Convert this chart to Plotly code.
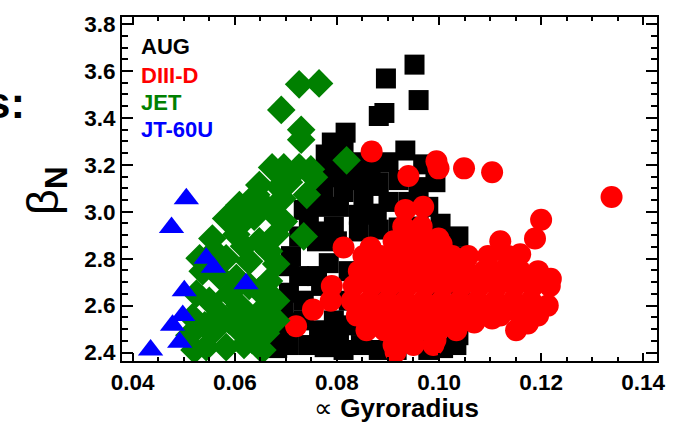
import plotly.graph_objects as go

# ---- data: proportional gyroradius vs normalised beta, per device ----
aug_x = [0.0952, 0.0896, 0.0960, 0.0882, 0.0893, 0.0817, 0.0934, 0.0790, 0.0778, 0.0813,
         0.0798, 0.0833, 0.0769, 0.0804, 0.0774, 0.0813, 0.0765, 0.0866, 0.0901, 0.0969,
         0.0882, 0.0921, 0.0960, 0.0993, 0.0901, 0.0979, 0.0852, 0.0745, 0.0726, 0.0761,
         0.0710, 0.0726, 0.0706, 0.0696, 0.0716, 0.0687, 0.0706, 0.0683, 0.0735, 0.0769,
         0.0784, 0.0800, 0.0745, 0.0776, 0.0813, 0.0847, 0.1038, 0.1038, 0.1042, 0.1042,
         0.1042, 0.1038, 0.1034, 0.1008, 0.0979, 0.0882, 0.0917, 0.1003, 0.1018, 0.0843,
         0.0882, 0.0921, 0.0960, 0.0823, 0.0862, 0.0911, 0.0960, 0.0999, 0.0823, 0.0872,
         0.0921, 0.0979, 0.1014, 0.0823, 0.0882, 0.0940, 0.0999, 0.0735, 0.0706,
         0.0804, 0.0839, 0.0843, 0.0878, 0.0940, 0.0765, 0.0794, 0.0761, 0.0735, 0.0765,
         0.0794, 0.0804, 0.0850, 0.0870]
aug_y = [3.627, 3.568, 3.476, 3.408, 3.421, 3.337, 3.261, 3.295, 3.244, 3.274,
         3.211, 3.211, 3.168, 3.147, 3.093, 3.084, 3.021, 3.189, 3.211, 3.202,
         3.126, 3.135, 3.105, 3.126, 3.042, 3.021, 3.051, 2.958, 2.895, 2.874,
         2.811, 2.726, 2.655, 2.579, 2.528, 2.486, 2.432, 2.419, 2.621, 2.684,
         2.781, 2.874, 2.432, 2.423, 2.411, 2.432, 2.895, 2.811, 2.726, 2.642,
         2.558, 2.474, 2.432, 2.419, 2.411, 2.411, 2.411, 2.949, 2.874, 2.916,
         2.924, 2.933, 2.937, 2.747, 2.798, 2.811, 2.798, 2.781, 2.621, 2.621,
         2.621, 2.621, 2.705, 2.516, 2.516, 2.516, 2.516, 3.008, 2.768,
         3.021, 3.135, 2.987, 2.992, 3.042, 2.916, 2.937, 2.726, 2.537, 2.495,
         2.537, 2.474, 3.170, 3.110]

diiid_x = [0.0868, 0.0940, 0.0995, 0.0999, 0.1049, 0.1104, 0.1338, 0.1200, 0.1188, 0.1120,
           0.1159, 0.1219, 0.1213, 0.1174, 0.1151, 0.0813, 0.0866, 0.0720, 0.0753, 0.0788,
           0.0790, 0.0934, 0.0969, 0.0915, 0.0993,
           0.0930, 0.0966, 0.0999,
           0.0911, 0.0944, 0.0975, 0.1005,
           0.0852, 0.0886, 0.0921, 0.0956, 0.0991, 0.1026, 0.1057, 0.1096, 0.1135,
           0.0843, 0.0878, 0.0913, 0.0948, 0.0983, 0.1018, 0.1053, 0.1088, 0.1123, 0.1159, 0.1194,
           0.0833, 0.0868, 0.0903, 0.0938, 0.0973, 0.1008, 0.1044, 0.1079, 0.1114, 0.1149, 0.1184, 0.1217,
           0.0829, 0.0864, 0.0899, 0.0934, 0.0969, 0.1005, 0.1040, 0.1075, 0.1110, 0.1145, 0.1180,
           0.0839, 0.0874, 0.0909, 0.0944, 0.0979, 0.1014, 0.1049, 0.1084, 0.1120, 0.1159, 0.1194,
           0.0858, 0.0893, 0.0928, 0.0964, 0.0999, 0.1034, 0.1069, 0.1104,
           0.0911, 0.0950, 0.0989]
diiid_y = [3.257, 3.152, 3.215, 3.185, 3.185, 3.168, 3.063, 2.966, 2.886, 2.874,
           2.819, 2.714, 2.600, 2.524, 2.495, 2.848, 2.848, 2.512, 2.583, 2.621,
           2.684, 3.008, 3.021, 2.402, 2.453,
           2.937, 2.937, 2.886,
           2.874, 2.874, 2.874, 2.862,
           2.811, 2.811, 2.811, 2.811, 2.811, 2.811, 2.811, 2.811, 2.811,
           2.747, 2.747, 2.747, 2.747, 2.747, 2.747, 2.747, 2.747, 2.747, 2.747, 2.747,
           2.684, 2.684, 2.684, 2.684, 2.684, 2.684, 2.684, 2.684, 2.684, 2.684, 2.684, 2.684,
           2.621, 2.621, 2.621, 2.621, 2.621, 2.621, 2.621, 2.621, 2.621, 2.621, 2.621,
           2.558, 2.558, 2.558, 2.558, 2.558, 2.558, 2.558, 2.558, 2.558, 2.558, 2.558,
           2.495, 2.495, 2.495, 2.495, 2.495, 2.495, 2.528, 2.545,
           2.432, 2.432, 2.432]

jet_x = [0.0726, 0.0765, 0.0691, 0.0730, 0.0730, 0.0819, 0.0673, 0.0726, 0.0749, 0.0755,
         0.0706, 0.0693, 0.0741, 0.0648, 0.0735, 0.0642, 0.0609, 0.0583, 0.0622, 0.0673,
         0.0556, 0.0603, 0.0648, 0.0681, 0.0667, 0.0531, 0.0583, 0.0628, 0.0681, 0.0537,
         0.0603, 0.0667, 0.0525, 0.0589, 0.0648, 0.0681, 0.0517, 0.0570, 0.0622, 0.0681,
         0.0661, 0.0511, 0.0544, 0.0583, 0.0634, 0.0654, 0.0560, 0.0609, 0.0687, 0.0657,
         0.0696,
         0.0560, 0.0618, 0.0570, 0.0628, 0.0550, 0.0609, 0.0652, 0.0541, 0.0589, 0.0638,
         0.0618, 0.0521, 0.0638, 0.0696]
jet_y = [3.543, 3.547, 3.434, 3.349, 3.307, 3.219, 3.189, 3.189, 3.181, 3.147,
         3.126, 3.055, 3.072, 3.114, 2.895, 3.072, 3.029, 2.971, 2.971, 3.000,
         2.886, 2.903, 2.874, 2.903, 2.832, 2.802, 2.802, 2.789, 2.777, 2.747,
         2.718, 2.705, 2.651, 2.651, 2.663, 2.621, 2.550, 2.566, 2.550, 2.537,
         2.482, 2.474, 2.423, 2.423, 2.453, 2.411, 2.495, 2.495, 3.105, 3.029,
         2.958,
         2.832, 2.853, 2.726, 2.684, 2.621, 2.600, 2.579, 2.516, 2.537, 2.516,
         2.432, 2.411, 2.979, 3.189]

jt60u_x = [0.0505, 0.0476, 0.0544, 0.0558, 0.0622, 0.0501, 0.0498, 0.0478, 0.0492, 0.0435]
jt60u_y = [3.055, 2.933, 2.802, 2.764, 2.693, 2.663, 2.558, 2.516, 2.444, 2.411]

device_names = ["AUG", "DIII-D", "JET", "JT-60U"]
device_colors = ["#000000", "#ff0000", "#008000", "#0000ff"]

x_ticks = [0.04, 0.06, 0.08, 0.10, 0.12, 0.14]
y_ticks = [2.4, 2.6, 2.8, 3.0, 3.2, 3.4, 3.6, 3.8]

FONT = "Liberation Sans, Arial, Helvetica, sans-serif"

series = [
    (aug_x, aug_y, "square", 20),
    (diiid_x, diiid_y, "circle", 22),
    (jet_x, jet_y, "diamond", 22),
    (jt60u_x, jt60u_y, "triangle-up", 22),
]

fig = go.Figure()
for (xs, ys, sym, sz), name, col in zip(series, device_names, device_colors):
    fig.add_trace(go.Scatter(
        x=xs, y=ys, mode="markers", name=name,
        marker=dict(symbol=sym, size=sz, color=col, line=dict(width=0)),
        showlegend=False, hoverinfo="x+y+name",
    ))

L, R, T, B = 122, 24, 13, 66
W, H = 681, 427
pw, ph = W - L - R, H - T - B


def px(xpix):
    return (xpix - L) / pw


def py(ypix):
    return (H - B - ypix) / ph


axis_common = dict(
    showgrid=False, zeroline=False, showline=True, linecolor="black", linewidth=2,
    mirror="ticks", ticks="inside", tickcolor="black", tickwidth=2,
    tickfont=dict(family=FONT, size=22.5, color="black", weight="bold"),
)

fig.update_xaxes(
    range=[0.0379, 0.1427], tickvals=x_ticks, tickformat=".2f", ticklen=8,
    minor=dict(dtick=0.005, tick0=0.04, ticks="inside", ticklen=4, tickwidth=1.5,
               tickcolor="black", showgrid=False),
    **axis_common,
)
fig.update_yaxes(
    range=[2.364, 3.83], tickvals=y_ticks, tickformat=".1f", ticklen=11,
    minor=dict(dtick=0.05, tick0=2.4, ticks="inside", ticklen=6, tickwidth=1.5,
               tickcolor="black", showgrid=False),
    **axis_common,
)

annotations = []
# device labels in the upper-left corner, coloured like their markers
legend_rows = [43, 72, 99, 127]
for name, col, yrow in zip(device_names, device_colors, legend_rows):
    annotations.append(dict(
        xref="paper", yref="paper", x=px(139), y=py(yrow), xanchor="left", yanchor="middle",
        text=f"<b>{name}</b>", showarrow=False,
        font=dict(family=FONT, size=22, color=col),
    ))

# axis titles
annotations.append(dict(
    xref="paper", yref="paper", x=px(396), y=py(409), xanchor="center", yanchor="middle",
    text="∝ <b>Gyroradius</b>", showarrow=False,
    font=dict(family=FONT, size=26, color="black"),
))
annotations.append(dict(
    xref="paper", yref="paper", x=px(46), y=py(189), xanchor="center", yanchor="middle",
    text="β<sub><b>N</b></sub>", showarrow=False, textangle=-90,
    font=dict(family=FONT, size=45, color="black"),
))
# trailing text from the surrounding slide
annotations.append(dict(
    xref="paper", yref="paper", x=px(27), y=py(99), xanchor="right", yanchor="middle",
    text="<b>s:</b>", showarrow=False,
    font=dict(family=FONT, size=44, color="black"),
))

fig.update_layout(
    width=W, height=H,
    margin=dict(l=L, r=R, t=T, b=B),
    paper_bgcolor="white", plot_bgcolor="white",
    annotations=annotations,
)

fig.write_html("out.html")
